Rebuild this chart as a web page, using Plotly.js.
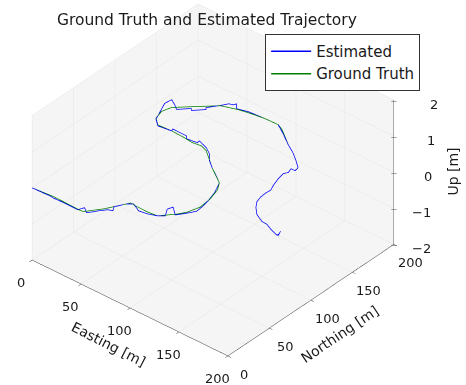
<!DOCTYPE html>
<html>
<head>
<meta charset="utf-8">
<script src="https://cdn.plot.ly/plotly-3.0.1.min.js"></script>
<style>html,body{margin:0;padding:0;background:#fff;}#plot{width:466px;height:385px;}</style>
</head>
<body>
<div id="plot"></div>
<script>
// Ground truth trajectory (metres)
var gtEasting = [0, 20.7, 46.6, 51.2, 61.0, 71.6, 77.1, 89.4, 98.7, 103.7, 108.7, 112.9, 116.2, 115.2, 111.3, 106.3, 89.3, 70.2, 63.0, 55.1, 46.1, 32.5, 19.0, 11.9, 9.3, 11.8, 24.4, 39.3, 53.4, 64.4, 77.0, 89.8, 96.5, 112.9];
var gtNorthing = [0, 1.8, 1.0, 1.4, 14.9, 34.3, 33.8, 33.6, 34.6, 40.5, 46.5, 53.4, 65.0, 78.0, 92.1, 100.2, 111.8, 127.0, 129.6, 128.2, 129.3, 129.9, 129.1, 135.2, 145.2, 154.2, 166.6, 180.9, 185.9, 188.2, 190.1, 190.5, 187.4, 175.2];
var gtUp = [0,0,0,0,0,0,0,0,0,0,0,0,0,0,0,0,0,0,0,0,0,0,0,0,0,0,0,0,0,0,0,0,0,0];

// Estimated trajectory (metres)
var estEasting = [0, 10.2, 17.5, 21.2, 31.7, 39.9, 46.2, 48.4, 53.9, 57.7, 59.7, 64.2, 67.9, 65.1, 69.6, 74.3, 83.2, 91.1, 98.7, 103.4, 98.5, 100.3, 108.4, 113.8, 117.8, 117.1, 115.7, 112.1, 106.3, 96.3, 89.3, 80.7, 74.6, 67.7, 57.5, 58.0, 48.2, 45.6, 31.3, 32.5, 19.9, 12.7, 11.2, 4.1, 4.9, 10.9, 16.4, 24.3, 26.1, 34.0, 32.3, 40.3, 42.3, 46.1, 47.0, 51.3, 60.9, 77.0, 89.8, 100.5, 112.9, 123.7, 132.3, 139.5, 140.3, 136.3, 137.9, 135.9, 137.3, 140.3, 143.0, 142.6, 143.1, 145.0, 149.6, 156.2, 165.3, 170.8, 177.5, 181.8, 186.2, 186.5, 185.0, 187.6];
var estNorthing = [0, 0.3, 0.8, 0.2, 0.6, 0.6, 0.4, 6.0, 1.9, 6.9, 10.4, 15.9, 17.3, 21.9, 30.8, 34.8, 30.2, 31.6, 34.6, 38.5, 46.6, 51.6, 44.5, 52.4, 59.4, 67.4, 75.0, 87.6, 100.2, 107.3, 111.8, 118.4, 125.5, 130.1, 133.7, 130.7, 129.3, 132.3, 132.5, 129.9, 128.1, 134.2, 138.2, 154.8, 162.3, 158.8, 154.7, 163.1, 161.1, 169.5, 171.5, 183.4, 187.0, 188.4, 191.0, 185.9, 188.8, 190.1, 190.5, 183.8, 175.2, 168.6, 162.0, 155.9, 151.4, 151.4, 145.9, 142.4, 134.9, 125.3, 118.8, 113.3, 106.7, 99.8, 93.2, 86.6, 81.9, 81.4, 78.3, 76.8, 75.3, 77.3, 81.2, 74.8];
var estUp = [0,0,0,0,0,0,0,0,0,0,0,0,0,0,0,0,0,0,0,0,0,0,0,0,0,0,0,0,0,0,0,0,0,0,0,0,0,0,0,0,0,0,0,0,0,0,0,0,0,0,0,0,0,0,0,0,0,0,0,0,0,0,0,0,0,0,0,0,0,0,0,0,0,0,0,0,0,0,0,0,0,0,0,0];

// Axis ranges and tick labels
var enRange = [0, 200];
var upRange = [-2, 2];
var enTicks = [0, 50, 100, 150, 200];
var enTickText = ['0', '50', '100', '150', '200'];
var upTicks = [-2, -1, 0, 1, 2];
var upTickText = ['\u22122', '\u22121', '0', '1', '2'];

var FONT = 'DejaVu Sans, sans-serif';
var TXT = '#1a1a1a';
// horizontal label offsets for the Up axis (the original's vertical axis leans slightly)
var upLabelShift = [27, 27, 34, 37, 40];

function axis(range, tv, showLine) {
  return {
    range: range, autorange: false,
    tickmode: 'array', tickvals: tv,
    showticklabels: false,
    showbackground: true, backgroundcolor: '#f5f5f5',
    showgrid: true, gridcolor: '#e4e4e4', gridwidth: 1,
    showline: showLine, linecolor: '#333', linewidth: 1,
    ticks: showLine ? 'outside' : '', ticklen: 4, tickcolor: '#333',
    zeroline: false, showspikes: false,
    title: {text: ''}
  };
}

var traces = [
  {type: 'scatter3d', mode: 'lines', name: 'Estimated',
   x: estEasting, y: estNorthing, z: estUp,
   line: {color: '#0000ff', width: 1.5}},
  {type: 'scatter3d', mode: 'lines', name: 'Ground Truth',
   x: gtEasting, y: gtNorthing, z: gtUp,
   line: {color: '#008000', width: 1.5}},
  // Up axis drawn on the right-hand vertical edge (as in the original)
  {type: 'scatter3d', mode: 'lines', showlegend: false, hoverinfo: 'skip',
   x: [enRange[1], enRange[1]], y: [enRange[1], enRange[1]], z: upRange,
   line: {color: '#333', width: 1}}
];

var ann = [];
enTicks.forEach(function (v, i) {
  ann.push({x: v, y: enRange[0], z: upRange[0], text: enTickText[i], showarrow: false,
            xanchor: 'center', yanchor: 'middle', xshift: -11, yshift: -22,
            font: {family: FONT, size: 13, color: TXT}});
  ann.push({x: enRange[1], y: v, z: upRange[0], text: enTickText[i], showarrow: false,
            xanchor: 'center', yanchor: 'middle', xshift: 16, yshift: -18,
            font: {family: FONT, size: 13, color: TXT}});
});
upTicks.forEach(function (v, i) {
  ann.push({x: enRange[1], y: enRange[1], z: v, text: upTickText[i], showarrow: false,
            xanchor: 'center', yanchor: 'middle', xshift: upLabelShift[i], yshift: -4,
            font: {family: FONT, size: 13, color: TXT}});
  ann.push({x: enRange[1], y: enRange[1], z: v, text: '\u2014', showarrow: false,
            xanchor: 'center', yanchor: 'middle', xshift: 0, yshift: 0,
            font: {family: FONT, size: 6, color: '#333'}});
});
ann.push({x: 100, y: enRange[0], z: upRange[0], text: 'Easting [m]', showarrow: false,
          xshift: -22, yshift: -36, textangle: 27, font: {family: FONT, size: 14, color: TXT}});
ann.push({x: enRange[1], y: 100, z: upRange[0], text: 'Northing [m]', showarrow: false,
          xshift: 29, yshift: -34, textangle: -34, font: {family: FONT, size: 14, color: TXT}});
ann.push({x: enRange[1], y: enRange[1], z: 0, text: 'Up [m]', showarrow: false,
          xshift: 59, yshift: 1, textangle: -90, font: {family: FONT, size: 14, color: TXT}});

var layout = {
  width: 466, height: 385,
  margin: {l: 0, r: 0, t: 0, b: 0},
  paper_bgcolor: '#fff',
  showlegend: true,
  legend: {x: 0.569, y: 0.912, xanchor: 'left', yanchor: 'top', itemwidth: 40,
           bgcolor: '#fff', bordercolor: '#333', borderwidth: 1,
           font: {family: FONT, size: 15, color: TXT}},
  title: {text: 'Ground Truth and Estimated Trajectory',
          x: 0.444, xanchor: 'center', y: 0.948, yanchor: 'middle',
          font: {family: FONT, size: 15.5, color: TXT}},
  scene: {
    domain: {x: [0, 0.915], y: [0.064, 1]},
    xaxis: axis(enRange, enTicks, true),
    yaxis: axis(enRange, enTicks, true),
    zaxis: axis(upRange, upTicks, false),
    aspectmode: 'manual',
    aspectratio: {x: 1.43, y: 1.42, z: 0.98},
    camera: {
      eye: {x: 0.718, y: -0.841, z: 0.775},
      up: {x: 0, y: 0, z: 1},
      center: {x: 0, y: 0, z: 0},
      projection: {type: 'orthographic'}
    },
    annotations: ann
  }
};

Plotly.newPlot('plot', traces, layout, {displayModeBar: false});
</script>
</body>
</html>
